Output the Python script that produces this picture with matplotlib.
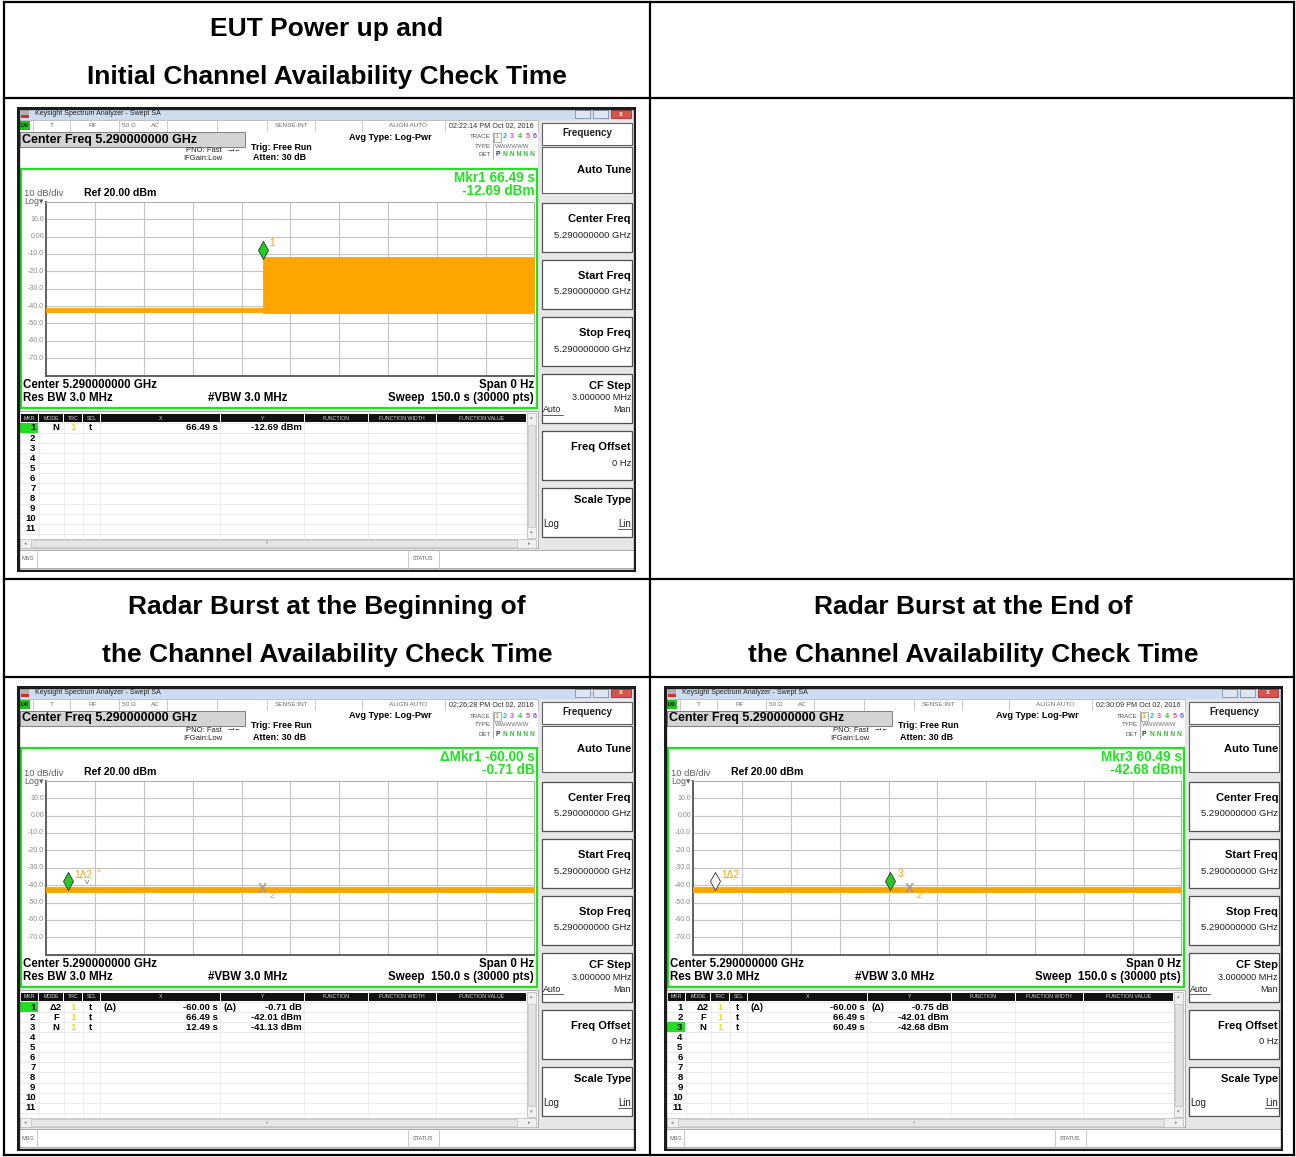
import matplotlib.pyplot as plt
from matplotlib.patches import Rectangle
from matplotlib.path import Path

plt.rcParams['font.family'] = ['Liberation Sans', 'DejaVu Sans']

W, H = 1296, 1157

# headings of the report table
head_top_left = ["EUT Power up and", "Initial Channel Availability Check Time"]
head_mid_left = ["Radar Burst at the Beginning of", "the Channel Availability Check Time"]
head_mid_right = ["Radar Burst at the End of", "the Channel Availability Check Time"]

# analyzer time stamps and active marker readouts
stamps = ["02:22:14 PM Oct 02, 2016", "02:26:28 PM Oct 02, 2016", "02:30:09 PM Oct 02, 2016"]
readouts = [("Mkr1 66.49 s", "-12.69 dBm"),
            ("\u0394Mkr1 -60.00 s", "-0.71 dB"),
            ("Mkr3 60.49 s", "-42.68 dBm")]

# trace envelopes: sweep time (s), upper and lower level (dBm)
cac_t = [0, 66.49, 66.49, 150]
cac_hi = [-41.3, -41.3, -11.8, -11.8]
cac_lo = [-43.6, -43.6, -43.8, -43.8]
begin_t = [0, 150]
begin_hi = [-41.0, -41.0]
begin_lo = [-43.7, -43.7]
end_t = [0, 150]
end_hi = [-41.0, -41.0]
end_lo = [-43.7, -43.7]

# markers on the trace: time (s), level (dBm), state, label
cac_mk = [(66.49, -12.69, 'active', '1')]
begin_mk = [(6.49, -42.01 - 0.71, 'active', '1\u03942'),
            (12.49, -41.13, 'normal', '3'),
            (66.49, -42.01, 'fixed', '2')]
end_mk = [(6.49, -42.01 - 0.75, 'inactive', '1\u03942'),
          (60.49, -42.68, 'active', '3'),
          (66.49, -42.01, 'fixed', '2')]

# marker table rows: mkr, mode, scl, x flag, x, y flag, y
cac_rows = [("1", "N", "t", "", "66.49 s", "", "-12.69 dBm")]
begin_rows = [("1", "\u03942", "t", "(\u0394)", "-60.00 s", "(\u0394)", "-0.71 dB"),
              ("2", "F", "t", "", "66.49 s", "", "-42.01 dBm"),
              ("3", "N", "t", "", "12.49 s", "", "-41.13 dBm")]
end_rows = [("1", "\u03942", "t", "(\u0394)", "-60.00 s", "(\u0394)", "-0.75 dB"),
            ("2", "F", "t", "", "66.49 s", "", "-42.01 dBm"),
            ("3", "N", "t", "", "60.49 s", "", "-42.68 dBm")]

y_labels = ["10.0", "0.00", "-10.0", "-20.0", "-30.0", "-40.0", "-50.0", "-60.0", "-70.0"]
softkeys = [("Center Freq", "5.290000000 GHz"), ("Start Freq", "5.290000000 GHz"),
            ("Stop Freq", "5.290000000 GHz"), ("CF Step", "3.000000 MHz"),
            ("Freq Offset", "0 Hz"), ("Scale Type", "")]

ORANGE = '#ffa500'
GREEN = '#22e022'
SW, SH = 619, 465

fig = plt.figure(figsize=(W / 100, H / 100), dpi=100)
base = fig.add_axes([0, 0, 1, 1])
base.set_xlim(0, W)
base.set_ylim(H, 0)
base.axis('off')

# table grid
for y in (2, 98, 579, 677, 1155):
    base.plot([4, 1294], [y, y], color='black', lw=1.6)
for x in (4, 650, 1294):
    base.plot([x, x], [2, 1155], color='black', lw=1.6)


def heading(cx, lines, rows):
    for s, y in zip(lines, rows):
        base.text(cx, y, s, ha='center', va='center', fontsize=19, fontweight='bold')


heading(327, head_top_left, (29, 77))
heading(327, head_mid_left, (607, 655))
heading(973, head_mid_right, (607, 655))

diamond = Path([(0, 0), (-0.55, 1), (0, 2), (0.55, 1), (0, 0)],
               [Path.MOVETO, Path.LINETO, Path.LINETO, Path.LINETO, Path.CLOSEPOLY])


def draw_screen(left, top, stamp, readout, t, hi, lo, markers, rows, active):
    ax = fig.add_axes([left / W, 1 - (top + SH) / H, SW / W, SH / H])
    ax.set_xlim(0, SW)
    ax.set_ylim(SH, 0)
    ax.axis('off')

    def box(x0, y0, x1, y1, fc='white', ec='none', lw=0.6, z=1):
        ax.add_patch(Rectangle((x0, y0), x1 - x0, y1 - y0, fc=fc, ec=ec, lw=lw, zorder=z))

    def tx(x, y, s, size=6, **kw):
        kw.setdefault('va', 'center')
        ax.text(x, y, s, fontsize=size, zorder=5, **kw)

    box(0, 0, SW, SH, fc='#e4e4e4')
    # window title bar
    box(0, 0, SW, 13, fc='#cddcef')
    box(4, 3, 12, 11, fc='#b0b0b0')
    box(4, 8, 12, 11, fc='#d03030')
    tx(18, 6.5, "Keysight Spectrum Analyzer - Swept SA", size=5.0, color='#202020')
    box(558, 3, 573, 11, fc='#dde6f2', ec='#8090a8')
    box(576, 3, 591, 11, fc='#dde6f2', ec='#8090a8')
    box(594, 3, 614, 11, fc='#d9534a', ec='#a03030')
    tx(604, 7, "x", size=5, color='white', ha='center', fontweight='bold')

    # status line
    box(2, 13, 521, 24, fc='white', ec='#b8b8b8')
    box(3, 14, 13, 23, fc='#20c020')
    tx(4, 18.5, "LXI", size=3.5, color='black', fontweight='bold')
    for x in (16, 53, 102, 150, 200, 250, 298, 345, 428):
        ax.plot([x, x], [13, 24], color='#c0c0c0', lw=0.6, zorder=2)
    for x, s in ((35, "T"), (76, "RF"), (112, "50 \u03a9"), (138, "AC"),
                 (275, "SENSE:INT"), (391, "ALIGN AUTO")):
        tx(x, 18.5, s, size=4.6, color='#707070', ha='center')
    tx(474, 18.5, stamp, size=5.2, color='#303030', ha='center')

    # header area
    box(2, 24, 521, 61, fc='white')
    box(3, 25, 228, 40, fc='#d4d4d4', ec='#707070')
    tx(5, 32.5, "Center Freq 5.290000000 GHz", size=9, fontweight='bold')
    tx(205, 44, "PNO: Fast", size=5.5, ha='right', color='#202020')
    tx(205, 52, "IFGain:Low", size=5.5, ha='right', color='#202020')
    tx(217, 44, "\u2192\u2022\u2190", size=4.5, ha='center')
    tx(234, 40, "Trig: Free Run", size=6.4, fontweight='bold')
    tx(236, 51, "Atten: 30 dB", size=6.4, fontweight='bold')
    tx(332, 30, "Avg Type: Log-Pwr", size=6.6, fontweight='bold')
    tx(474, 30, "TRACE", size=4.4, ha='right', color='#505050')
    tx(474, 39, "TYPE", size=4.4, ha='right', color='#505050')
    tx(474, 48, "DET", size=4.4, ha='right', color='#505050')
    ax.plot([476, 476], [25, 52], color='#a0a0a0', lw=0.6)
    trace_cols = ['#f0b000', '#00b8f0', '#f040f0', '#30c830', '#f04080', '#8050f0']
    for i, c in enumerate(trace_cols):
        tx(480 + i * 7.6, 30, str(i + 1), size=5.2, color=c, ha='center', fontweight='bold')
    box(476.5, 25.5, 484, 34.5, fc='none', ec='#909090', lw=0.5)
    tx(478, 39, "W" * 6, size=4.4, color='#707070')
    tx(478, 48, "P", size=4.8, color='#303030', fontweight='bold')
    tx(486, 48, "N N N N N", size=4.8, color='#30c030', fontweight='bold')

    # display area with green frame
    box(3, 61, 520, 301, fc='white', z=1)
    ax.add_patch(Rectangle((3.5, 61.5), 516, 239, fc='none', ec=GREEN, lw=1.6, zorder=6))
    tx(518, 71, readout[0], size=9.8, ha='right', color=GREEN, fontweight='bold')
    tx(518, 84, readout[1], size=9.8, ha='right', color=GREEN, fontweight='bold')
    tx(7, 87, "10 dB/div", size=6.8, color='#606060')
    tx(67, 86, "Ref 20.00 dBm", size=7.6, fontweight='bold')
    tx(7, 95, "Log\u25be", size=6.4, color='#606060')
    for i, s in enumerate(y_labels):
        tx(27, 94.7 + 17.4 * (i + 1), s, size=5, color='#8a8a8a', ha='right')
    tx(6, 278, "Center 5.290000000 GHz", size=8.3, fontweight='bold')
    tx(6, 291, "Res BW 3.0 MHz", size=8.3, fontweight='bold')
    tx(191, 291, "#VBW 3.0 MHz", size=8.3, fontweight='bold')
    tx(517, 278, "Span 0 Hz", size=8.3, ha='right', fontweight='bold')
    tx(517, 291, "Sweep  150.0 s (30000 pts)", size=8.3, ha='right', fontweight='bold')

    # marker table
    box(2, 304, 521, 441, fc='white', ec='#a0a0a0')
    edges = [3, 21.7, 46.7, 65.7, 83.3, 203.3, 287.3, 351.3, 419, 509.7]
    heads = ["MKR", "MODE", "TRC", "SCL", "X", "Y", "FUNCTION", "FUNCTION WIDTH", "FUNCTION VALUE"]
    for a, b, s in zip(edges[:-1], edges[1:], heads):
        box(a + 0.5, 307, b - 0.5, 315, fc='#111111', z=2)
        tx((a + b) / 2, 311, s, size=3.8, color='#d8d8d8', ha='center')
    for i in range(12):
        y = 316 + i * 10.07
        ax.plot([3, 509.7], [y, y], color='#e2e2e2', lw=0.5, zorder=2)
    for x in edges[1:-1]:
        ax.plot([x, x], [315, 431], color='#e8e8e8', lw=0.5, zorder=2)
    for i in range(11):
        y = 321 + i * 10.07
        if i + 1 == active:
            box(3, y - 5, 21.2, y + 5, fc='#22dd22', z=3)
        tx(18.5, y, str(i + 1), size=6.8, ha='right', fontweight='bold')
    for i, r in enumerate(rows):
        y = 321 + i * 10.07
        tx(39, y, r[1], size=6.8, ha='center', fontweight='bold')
        tx(56, y, "1", size=6.8, ha='center', color='#f0e000', fontweight='bold')
        tx(74, y, r[2], size=6.8, ha='center', fontweight='bold')
        tx(86, y, r[3], size=6.8, fontweight='bold')
        tx(201, y, r[4], size=6.8, ha='right', fontweight='bold')
        tx(207, y, r[5], size=6.8, fontweight='bold')
        tx(285, y, r[6], size=6.8, ha='right', fontweight='bold')
    # scroll bars
    box(510, 306, 519, 431, fc='#f0f0f0', ec='#c0c0c0', z=2)
    box(511, 318, 518, 420, fc='#e2e2e2', ec='#c8c8c8', z=3)
    tx(514.5, 311, "\u25b4", size=3.5, ha='center', color='#808080')
    tx(514.5, 426, "\u25be", size=3.5, ha='center', color='#808080')
    box(3, 432, 519, 441, fc='#f0f0f0', ec='#c0c0c0', z=2)
    box(14, 433, 500, 440, fc='#e6e6e6', ec='#c8c8c8', z=3)
    tx(8, 436.5, "\u25c2", size=3.5, ha='center', color='#808080')
    tx(512, 436.5, "\u25b8", size=3.5, ha='center', color='#808080')
    tx(250, 436.5, "III", size=3, ha='center', color='#909090')

    # soft key panel
    box(522, 13, 617, 442, fc='#e6e6e6')
    box(525, 16, 615, 38, fc='white', ec='#606060', lw=0.8, z=2)
    tx(570, 26, "Frequency", size=7.1, ha='center', fontweight='bold', color='#202020')
    box(525, 40, 615, 86, fc='white', ec='#606060', lw=0.8, z=2)
    tx(614, 63, "Auto Tune", size=8, ha='right', fontweight='bold')
    for i, (name, val) in enumerate(softkeys):
        y0 = 96 + i * 57
        box(525, y0, 615, y0 + 49, fc='white', ec='#505050', lw=0.9, z=2)
        if name in ("CF Step", "Scale Type"):
            tx(614, y0 + 12, name, size=8, ha='right', fontweight='bold')
            if val:
                tx(614, y0 + 24, val, size=6.6, ha='right', color='#202020')
            left_s, right_s = ("Auto", "Man") if name == "CF Step" else ("Log", "Lin")
            yb = y0 + 36
            fs = 6.9 if name == "Scale Type" else 6.4
            tx(526, yb, left_s, size=fs, color='#202020')
            tx(614, yb, right_s, size=fs, ha='right', color='#202020')
            ux = (526, 546) if name == "CF Step" else (601, 614)
            ax.plot(ux, [yb + 4.5, yb + 4.5], color='#202020', lw=0.5, zorder=5)
        else:
            tx(614, y0 + 16, name, size=8, ha='right', fontweight='bold')
            tx(614, y0 + 32, val, size=6.8, ha='right', color='#202020')

    # status bar
    box(2, 443, 617, 461, fc='white', ec='#a0a0a0')
    for x in (20, 391, 422):
        ax.plot([x, x], [443, 461], color='#c0c0c0', lw=0.6)
    tx(5, 452, "MSG", size=4, color='#606060')
    tx(406.5, 452, "STATUS", size=4, color='#606060', ha='center')

    ax.add_patch(Rectangle((1, 1), SW - 2, SH - 2, fc='none', ec='#1c1c1c', lw=2.4, zorder=8))

    # graticule with the trace
    pa = fig.add_axes([(left + 29.4) / W, 1 - (top + 268.7) / H, 488 / W, 174 / H])
    pa.set_xlim(0, 150)
    pa.set_ylim(-80, 20)
    pa.set_xticks([i * 15 for i in range(1, 10)])
    pa.set_yticks([-70 + 10 * i for i in range(9)])
    pa.grid(True, color='#c4c4c4', lw=0.8)
    pa.tick_params(length=0, labelleft=False, labelbottom=False)
    for s in ('top', 'right'):
        pa.spines[s].set_color('#b0b0b0')
        pa.spines[s].set_linewidth(0.8)
    for s in ('left', 'bottom'):
        pa.spines[s].set_color('#606060')
        pa.spines[s].set_linewidth(1.4)
    pa.fill_between(t, lo, hi, color=ORANGE, lw=0.6, ec=ORANGE, zorder=3)

    for mt, lvl, state, label in markers:
        if state == 'fixed':
            pa.text(mt, lvl, "X", fontsize=10, color='#9a9a9a', ha='center', va='center',
                    fontweight='bold', alpha=0.9, zorder=6)
            pa.annotate(label, (mt, lvl), xytext=(5, -5), textcoords='offset points',
                        fontsize=6.5, color=ORANGE, va='center', zorder=6)
        elif state == 'normal':
            pa.annotate("v", (mt, lvl), xytext=(0, 3.5), textcoords='offset points',
                        fontsize=6, color='#707070', ha='center', va='center', zorder=6)
            pa.annotate(label, (mt, lvl), xytext=(7, 12), textcoords='offset points',
                        fontsize=4.5, color=ORANGE, va='center', zorder=6)
        else:
            fc = '#22cc22' if state == 'active' else 'white'
            pa.plot([mt], [lvl], marker=diamond, ms=26, mfc=fc, mec='#303030', mew=0.6,
                    ls='none', zorder=6, clip_on=False)
            pa.annotate(label, (mt, lvl), xytext=(5, 11), textcoords='offset points',
                        fontsize=7.4, color=ORANGE, va='center', zorder=6)


draw_screen(17, 107, stamps[0], readouts[0], cac_t, cac_hi, cac_lo, cac_mk, cac_rows, 1)
draw_screen(17, 686, stamps[1], readouts[1], begin_t, begin_hi, begin_lo, begin_mk, begin_rows, 1)
draw_screen(664, 686, stamps[2], readouts[2], end_t, end_hi, end_lo, end_mk, end_rows, 3)

fig.savefig("out.png", dpi=100)
